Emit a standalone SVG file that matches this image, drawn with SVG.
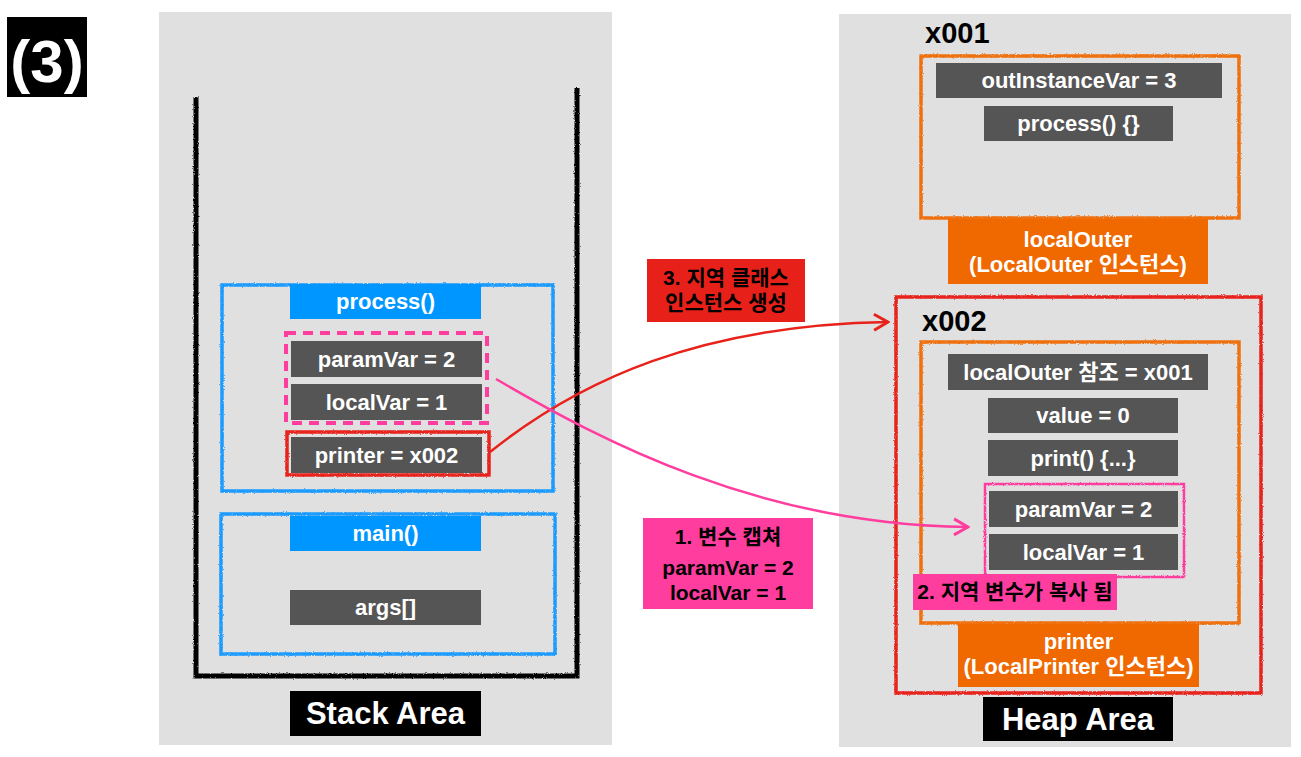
<svg xmlns="http://www.w3.org/2000/svg" width="1301" height="757" viewBox="0 0 1301 757">
<style>
text{font-family:"Liberation Sans","Noto Sans CJK KR",sans-serif;font-weight:bold;text-anchor:middle}
.t{font-size:22px;fill:#fff}
.tb{font-size:21px;fill:#000}
.big{font-size:31px;fill:#fff}
.area{fill:#e0e0e0}
.dark{fill:#555}
.blue{fill:#0096ff}
.orange{fill:#f06800}
.bframe{fill:none;stroke:#1a9bff;stroke-width:3.5}
.oframe{fill:none;stroke:#f07010;stroke-width:3.5}
.rframe{fill:none;stroke:#e8221a;stroke-width:3.5}
.pframe{fill:none;stroke:#ff3d9e;stroke-width:2.5}
</style>
<defs>
<filter id="rough" x="-5%" y="-5%" width="110%" height="110%">
<feTurbulence type="fractalNoise" baseFrequency="0.9" numOctaves="2" seed="3"/>
<feDisplacementMap in="SourceGraphic" scale="2.5" xChannelSelector="R" yChannelSelector="G"/>
</filter>
<marker id="arrR" viewBox="0 0 20 20" refX="18" refY="10" markerWidth="20" markerHeight="20" markerUnits="userSpaceOnUse" orient="auto">
<path d="M4,2 L18,10 L4,18" fill="none" stroke="#e8221a" stroke-width="3"/>
</marker>
<marker id="arrP" viewBox="0 0 20 20" refX="18" refY="10" markerWidth="20" markerHeight="20" markerUnits="userSpaceOnUse" orient="auto">
<path d="M4,2 L18,10 L4,18" fill="none" stroke="#ff3d9e" stroke-width="3"/>
</marker>
</defs>
<rect width="1301" height="757" fill="#fff"/>

<g id="label-3">
<rect x="7" y="17" width="80" height="80" fill="#000"/>
<text x="47" y="82" style="font-size:60px;fill:#fff">(3)</text>
</g>

<g id="stack-area">
<rect class="area" x="159" y="12" width="453" height="733"/>
<path d="M196,97 L196,676 L577,676 L577,88" fill="none" stroke="#000" stroke-width="5" filter="url(#rough)"/>
<rect x="290" y="691" width="191" height="45" fill="#000"/>
<text class="big" x="385.5" y="724">Stack Area</text>
</g>

<g id="process-frame">
<rect class="bframe" x="222" y="285" width="331" height="206" filter="url(#rough)"/>
<rect class="blue" x="290" y="284" width="191" height="35"/>
<text class="t" x="385.5" y="309">process()</text>
</g>
<g id="captured-vars-stack">
<rect x="286" y="333" width="201" height="90" fill="none" stroke="#ff3d9e" stroke-width="4" stroke-dasharray="10 7"/>
<rect class="dark" x="291" y="341" width="191" height="36"/>
<text class="t" x="386.5" y="367">paramVar = 2</text>
<rect class="dark" x="291" y="384" width="191" height="36"/>
<text class="t" x="386.5" y="410">localVar = 1</text>
</g>
<g id="printer-var">
<rect class="rframe" x="287" y="432" width="202" height="43" filter="url(#rough)"/>
<rect class="dark" x="291" y="437" width="191" height="36"/>
<text class="t" x="386.5" y="463">printer = x002</text>
</g>

<g id="main-frame">
<rect class="bframe" x="221" y="514" width="334" height="140" filter="url(#rough)"/>
<rect class="blue" x="290" y="516" width="191" height="35"/>
<text class="t" x="385.5" y="541">main()</text>
<rect class="dark" x="290" y="590" width="191" height="35"/>
<text class="t" x="385.5" y="615">args[]</text>
</g>

<g id="heap-area">
<rect class="area" x="839" y="14" width="452" height="733"/>
<rect x="983" y="697" width="190" height="44" fill="#000"/>
<text class="big" x="1078" y="730">Heap Area</text>
</g>

<g id="x001">
<text x="925" y="43" style="font-size:29px;fill:#000;text-anchor:start">x001</text>
<rect class="oframe" x="921" y="56" width="318" height="162" filter="url(#rough)"/>
<rect class="dark" x="936" y="63" width="286" height="35"/>
<text class="t" x="1079" y="88">outInstanceVar = 3</text>
<rect class="dark" x="984" y="106" width="189" height="35"/>
<text class="t" x="1078.5" y="131">process() {}</text>
<rect class="orange" x="948" y="219" width="260" height="65"/>
<text class="t" x="1078" y="247">localOuter</text>
<text class="t" x="1078" y="272">(LocalOuter 인스턴스)</text>
</g>

<g id="x002">
<rect class="rframe" x="896" y="297" width="365" height="396" filter="url(#rough)"/>
<text x="922" y="331" style="font-size:29px;fill:#000;text-anchor:start">x002</text>
<rect class="oframe" x="921" y="342" width="318" height="281" filter="url(#rough)"/>
<rect class="dark" x="948" y="354" width="260" height="36"/>
<text class="t" x="1078" y="380">localOuter 참조 = x001</text>
<rect class="dark" x="988" y="398" width="190" height="35"/>
<text class="t" x="1083" y="423">value = 0</text>
<rect class="dark" x="988" y="440" width="190" height="36"/>
<text class="t" x="1083" y="466">print() {...}</text>
<rect class="pframe" x="985" y="484" width="199" height="93" filter="url(#rough)"/>
<rect class="dark" x="989" y="491" width="189" height="36"/>
<text class="t" x="1083.5" y="517">paramVar = 2</text>
<rect class="dark" x="989" y="534" width="189" height="36"/>
<text class="t" x="1083.5" y="560">localVar = 1</text>
<rect x="913" y="574" width="204" height="36" fill="#ff3d9e"/>
<text class="tb" x="1015" y="599">2. 지역 변수가 복사 됨</text>
<rect class="orange" x="958" y="624" width="241" height="63"/>
<text class="t" x="1078.5" y="649">printer</text>
<text class="t" x="1078.5" y="674">(LocalPrinter 인스턴스)</text>
</g>

<g id="connectors">
<path d="M490,452 C580,380 700,325 888,322" fill="none" stroke="#e8221a" stroke-width="2.5" marker-end="url(#arrR)"/>
<path d="M496,379 C600,440 760,525 968,527" fill="none" stroke="#ff3d9e" stroke-width="2.5" marker-end="url(#arrP)"/>
</g>

<g id="note-3">
<rect x="647" y="259" width="158" height="63" fill="#e8201a"/>
<text class="tb" x="726" y="285">3. 지역 클래스</text>
<text class="tb" x="726" y="310">인스턴스 생성</text>
</g>
<g id="note-1">
<rect x="643" y="518" width="170" height="91" fill="#ff3d9e"/>
<text class="tb" x="728" y="544">1. 변수 캡쳐</text>
<text class="tb" x="728" y="575">paramVar = 2</text>
<text class="tb" x="728" y="600">localVar = 1</text>
</g>
</svg>
